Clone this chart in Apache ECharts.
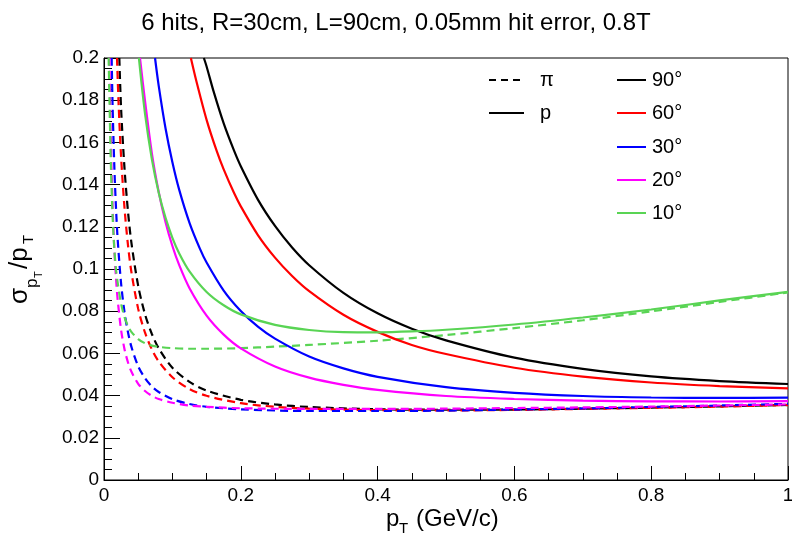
<!DOCTYPE html>
<html><head><meta charset="utf-8">
<script src="https://cdn.jsdelivr.net/npm/echarts@6/dist/echarts.min.js"></script>
<style>html,body{margin:0;padding:0;background:#fff}#c{width:792px;height:539px}</style>
</head><body><div id="c"></div>
<script>
// ---- data ----
const titleText = '6 hits, R=30cm, L=90cm, 0.05mm hit error, 0.8T';
const angleLabels = ['90°', '60°', '30°', '20°', '10°'];
const angleColors = ['#000000', '#ff0000', '#0000ff', '#ff00ff', '#59d454'];

// protons (solid)
const xP90 = [0.146, 0.15, 0.16, 0.175, 0.19, 0.2, 0.225, 0.25, 0.275, 0.3, 0.35, 0.4, 0.45, 0.5, 0.6, 0.7, 0.8, 0.9, 1.0];
const yP90 = [0.2, 0.196, 0.1844, 0.169, 0.1562, 0.1487, 0.1329, 0.1204, 0.1102, 0.1018, 0.0887, 0.079, 0.0717, 0.0662, 0.058, 0.0527, 0.0491, 0.0469, 0.0455];
const xP60 = [0.127, 0.135, 0.15, 0.165, 0.175, 0.19, 0.2, 0.225, 0.25, 0.275, 0.3, 0.35, 0.4, 0.45, 0.5, 0.6, 0.7, 0.8, 0.9, 1.0];
const yP60 = [0.2, 0.1891, 0.1707, 0.1557, 0.1472, 0.1361, 0.1297, 0.1161, 0.1054, 0.0967, 0.0895, 0.0783, 0.0702, 0.064, 0.0597, 0.0532, 0.049, 0.0462, 0.0445, 0.0434];
const xP30 = [0.0746, 0.08, 0.09, 0.1, 0.11, 0.125, 0.14, 0.15, 0.175, 0.2, 0.225, 0.25, 0.3, 0.35, 0.4, 0.5, 0.6, 0.7, 0.8, 0.9, 1.0];
const yP30 = [0.2, 0.1868, 0.1666, 0.1506, 0.1375, 0.1219, 0.1098, 0.1031, 0.0898, 0.0801, 0.0727, 0.067, 0.0585, 0.0529, 0.0489, 0.044, 0.0413, 0.0398, 0.0391, 0.0389, 0.039];
const xP20 = [0.0526, 0.06, 0.07, 0.08, 0.09, 0.1, 0.11, 0.125, 0.15, 0.175, 0.2, 0.25, 0.3, 0.35, 0.4, 0.5, 0.6, 0.7, 0.8, 0.9, 1.0];
const yP20 = [0.2, 0.1795, 0.1548, 0.1365, 0.1222, 0.1109, 0.1018, 0.0909, 0.0779, 0.0689, 0.0624, 0.0538, 0.0485, 0.0451, 0.0427, 0.0398, 0.0384, 0.0376, 0.0373, 0.0372, 0.0374];
const xP10 = [0.051, 0.06, 0.07, 0.08, 0.09, 0.1, 0.11, 0.125, 0.15, 0.175, 0.2, 0.25, 0.3, 0.35, 0.4, 0.45, 0.5, 0.6, 0.7, 0.8, 0.9, 1.0];
const yP10 = [0.2, 0.1735, 0.152, 0.1361, 0.1242, 0.1148, 0.1074, 0.0989, 0.0891, 0.0828, 0.0785, 0.0735, 0.0711, 0.0701, 0.07, 0.0704, 0.0712, 0.0737, 0.077, 0.0808, 0.0851, 0.0892];

// pions (dashed)
const xPi90 = [0.0224, 0.025, 0.03, 0.035, 0.04, 0.05, 0.06, 0.07, 0.08, 0.1, 0.125, 0.15, 0.2, 0.25, 0.3, 0.4, 0.5, 0.6, 0.7, 0.8, 0.9, 1.0];
const yPi90 = [0.2, 0.1759, 0.1476, 0.1275, 0.1126, 0.092, 0.0785, 0.0692, 0.0624, 0.0532, 0.0465, 0.0424, 0.038, 0.0358, 0.0346, 0.0335, 0.0333, 0.0334, 0.0338, 0.0343, 0.0349, 0.0356];
const xPi60 = [0.019, 0.0215, 0.025, 0.03, 0.035, 0.04, 0.05, 0.06, 0.07, 0.08, 0.1, 0.125, 0.15, 0.2, 0.25, 0.3, 0.4, 0.5, 0.6, 0.7, 0.8, 0.9, 1.0];
const yPi60 = [0.2, 0.1771, 0.1531, 0.1288, 0.1115, 0.0987, 0.0811, 0.0698, 0.0619, 0.0562, 0.0487, 0.0431, 0.0399, 0.0364, 0.0347, 0.0338, 0.0331, 0.033, 0.0332, 0.0337, 0.0342, 0.0348, 0.0355];
const xPi30 = [0.0112, 0.0125, 0.015, 0.0175, 0.02, 0.025, 0.03, 0.035, 0.04, 0.05, 0.06, 0.07, 0.08, 0.1, 0.125, 0.15, 0.2, 0.3, 0.4, 0.5, 0.6, 0.7, 0.8, 0.9, 1.0];
const yPi30 = [0.2, 0.1782, 0.1495, 0.1292, 0.114, 0.0931, 0.0795, 0.0701, 0.0632, 0.0539, 0.0482, 0.0443, 0.0417, 0.0383, 0.036, 0.0347, 0.0335, 0.0327, 0.0327, 0.0329, 0.0334, 0.0339, 0.0346, 0.0353, 0.0361];
const xPi20 = [0.008, 0.01, 0.0125, 0.015, 0.0175, 0.02, 0.025, 0.03, 0.035, 0.04, 0.05, 0.06, 0.07, 0.08, 0.1, 0.125, 0.15, 0.2, 0.3, 0.4, 0.5, 0.6, 0.7, 0.8, 0.9, 1.0];
const yPi20 = [0.2, 0.161, 0.13, 0.11, 0.0959, 0.0854, 0.0711, 0.062, 0.0558, 0.0514, 0.0456, 0.0422, 0.0399, 0.0384, 0.0366, 0.0353, 0.0347, 0.034, 0.0337, 0.0337, 0.0338, 0.0341, 0.0344, 0.0348, 0.0353, 0.0358];
const xPi10 = [0.0068, 0.008, 0.01, 0.0125, 0.015, 0.0175, 0.02, 0.025, 0.03, 0.035, 0.04, 0.05, 0.06, 0.07, 0.08, 0.1, 0.125, 0.15, 0.2, 0.25, 0.3, 0.4, 0.5, 0.6, 0.7, 0.8, 0.9, 1.0];
const yPi10 = [0.2, 0.18, 0.15, 0.126, 0.11, 0.1, 0.0935, 0.0836, 0.0772, 0.073, 0.0702, 0.0668, 0.0648, 0.0637, 0.0631, 0.0625, 0.0622, 0.0622, 0.0625, 0.0632, 0.064, 0.066, 0.0687, 0.072, 0.0757, 0.0799, 0.0844, 0.0889];

// ---- chart ----
const FONT = 'Liberation Sans, Arial, Helvetica, sans-serif';
const pair = (xs, ys) => xs.map((v, i) => [v, ys[i]]);
const pionX = [xPi90, xPi60, xPi30, xPi20, xPi10];
const pionY = [yPi90, yPi60, yPi30, yPi20, yPi10];
const protX = [xP90, xP60, xP30, xP20, xP10];
const protY = [yP90, yP60, yP30, yP20, yP10];

const series = [];
pionX.forEach((xs, i) => series.push({
  type: 'line', name: 'pi ' + angleLabels[i], data: pair(xs, pionY[i]),
  showSymbol: false, symbol: 'none', smooth: 0.3, clip: true,
  lineStyle: { color: angleColors[i], width: 2.2, type: [8, 5] }, z: 2
}));
protX.forEach((xs, i) => series.push({
  type: 'line', name: 'p ' + angleLabels[i], data: pair(xs, protY[i]),
  showSymbol: false, symbol: 'none', smooth: 0.3, clip: true,
  lineStyle: { color: angleColors[i], width: 2.2 }, z: 3
}));

const legendGraphics = [];
function legLine(x1, x2, y, color, dashed) {
  legendGraphics.push({ type: 'line', shape: { x1: x1, y1: y, x2: x2, y2: y },
    style: { stroke: color, lineWidth: 2, lineDash: dashed ? [7, 5] : null } });
}
function legText(x, y, text, size) {
  legendGraphics.push({ type: 'text', x: x, y: y,
    style: { text: text, fill: '#000', font: (size || 20) + 'px ' + FONT, verticalAlign: 'middle', align: 'left' } });
}
legLine(489, 524, 80, '#000', true); legText(540, 80, 'π');
legLine(489, 524, 113, '#000', false); legText(540, 113, 'p');
const rowsY = [80, 113, 147, 180, 213];
angleLabels.forEach((lab, i) => { legLine(617, 646, rowsY[i], angleColors[i], false); legText(652, rowsY[i], lab); });

// axis titles (with subscripts)
const titleGraphics = [
  { type: 'text', x: 386, y: 519, style: { text: 'p', fill: '#000', font: '24px ' + FONT, verticalAlign: 'middle' } },
  { type: 'text', x: 399, y: 529, style: { text: 'T', fill: '#000', font: '15px ' + FONT, verticalAlign: 'middle' } },
  { type: 'text', x: 416, y: 519, style: { text: '(GeV/c)', fill: '#000', font: '24px ' + FONT, verticalAlign: 'middle' } },
  { type: 'group', x: 20, y: 304, rotation: Math.PI / 2, children: [
    { type: 'text', x: 0, y: 0, style: { text: 'σ', fill: '#000', font: '26px ' + FONT, verticalAlign: 'middle' } },
    { type: 'text', x: 16, y: 12, style: { text: 'p', fill: '#000', font: '17px ' + FONT, verticalAlign: 'middle' } },
    { type: 'text', x: 26, y: 19, style: { text: 'T', fill: '#000', font: '11px ' + FONT, verticalAlign: 'middle' } },
    { type: 'text', x: 35, y: 0, style: { text: '/p', fill: '#000', font: '26px ' + FONT, verticalAlign: 'middle' } },
    { type: 'text', x: 60, y: 9, style: { text: 'T', fill: '#000', font: '15px ' + FONT, verticalAlign: 'middle' } }
  ]}
];

const axisCommon = {
  type: 'value',
  axisLine: { show: true, onZero: false, lineStyle: { color: '#000', width: 1 } },
  splitLine: { show: false },
  axisLabel: { color: '#000', fontSize: 19, fontFamily: FONT },
};

const chart = echarts.init(document.getElementById('c'), null, { renderer: 'canvas' });
chart.setOption({
  animation: false,
  backgroundColor: '#fff',
  title: { text: titleText, left: 'center', top: 6,
    textStyle: { fontSize: 24, fontWeight: 'normal', color: '#000', fontFamily: FONT } },
  grid: { left: 104, right: 4, top: 58, bottom: 59, show: true, borderColor: '#000', borderWidth: 1,
    containLabel: false, outerBoundsMode: 'none' },
  xAxis: Object.assign({}, axisCommon, {
    min: 0, max: 1, interval: 0.2,
    axisTick: { show: true, inside: true, length: 14, lineStyle: { color: '#000' } },
    minorTick: { show: true, splitNumber: 4, length: 7, lineStyle: { color: '#000' } },
    axisLabel: Object.assign({}, axisCommon.axisLabel, { margin: 6 })
  }),
  yAxis: Object.assign({}, axisCommon, {
    min: 0, max: 0.2, interval: 0.02,
    axisTick: { show: true, inside: true, length: 16, lineStyle: { color: '#000' } },
    minorTick: { show: true, splitNumber: 4, length: 8, lineStyle: { color: '#000' } },
    axisLabel: Object.assign({}, axisCommon.axisLabel, { margin: 5 })
  }),
  series: series,
  graphic: legendGraphics.concat(titleGraphics)
});
</script></body></html>
